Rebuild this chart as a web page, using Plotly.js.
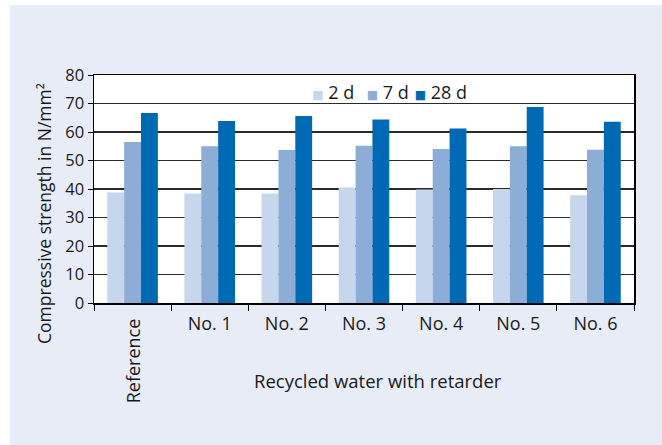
<!DOCTYPE html>
<html><head><meta charset="utf-8">
<script src="https://cdn.plot.ly/plotly-3.0.1.min.js"></script>
<style>
html,body{margin:0;padding:0;background:#ffffff;}
#chart{position:absolute;left:10px;top:5px;width:652px;height:440px;}
</style></head>
<body><div id="chart"></div>
<script>
const categories = ["Reference", "No. 1", "No. 2", "No. 3", "No. 4", "No. 5", "No. 6"];
const seriesNames = ["2 d", "7 d", "28 d"];
const values2d  = [38.8, 38.4, 38.4, 40.5, 39.8, 40.0, 37.8];
const values7d  = [56.5, 55.0, 53.7, 55.2, 54.0, 55.0, 53.8];
const values28d = [66.7, 63.9, 65.6, 64.4, 61.2, 68.8, 63.6];
const yTickVals = [0, 10, 20, 30, 40, 50, 60, 70, 80];
const xTitle = "Recycled water with retarder";
const yTitle = "Compressive strength in N/mm²";

const colors = ["#c6d6ec", "#8caed6", "#0069b4"];
const font = "Open Sans, Noto Sans, sans-serif";
const series = [values2d, values7d, values28d];
const legendIds = ["legend", "legend2", "legend3"];
const legendX = [0.330, 0.431, 0.520];

const traces = [];
series.forEach((v, i) => {
  traces.push({type: "bar", x: categories, y: v, name: seriesNames[i],
    marker: {color: colors[i], line: {width: 0}}, showlegend: false});
});
series.forEach((v, i) => {
  traces.push({type: "scatter", mode: "markers", x: [categories[0]], y: [null],
    name: '<span style="color:' + colors[i] + ';font-family:DejaVu Sans;font-size:12px">■</span> ' + seriesNames[i],
    legend: legendIds[i],
    marker: {symbol: "square", size: 0, color: "rgba(0,0,0,0)", line: {width: 0}}, showlegend: true});
});

const tickText = categories.map((c, i) => i === 0 ? "" : c);

const layout = {
  width: 652, height: 440,
  paper_bgcolor: "#e8ecf6", plot_bgcolor: "#ffffff",
  margin: {l: 84, r: 28, t: 70, b: 142},
  barmode: "group", bargap: 0.344, bargroupgap: 0,
  font: {family: font, size: 16, color: "#1a1a1a"},
  xaxis: {type: "category", tickmode: "array", tickvals: categories, ticktext: tickText,
    tickson: "boundaries", ticks: "outside", ticklen: 6, tickcolor: "#000", tickwidth: 1,
    ticklabelstandoff: 4,
    showline: true, linecolor: "#000", linewidth: 1.5, mirror: true,
    showgrid: false, tickfont: {size: 18, family: font, color: "#1a1a1a"}, fixedrange: true},
  yaxis: {range: [0, 80], tickvals: yTickVals, ticks: "outside", ticklen: 5, tickcolor: "#000",
    showline: true, linecolor: "#000", linewidth: 1.5, mirror: true,
    showgrid: true, gridcolor: "#2a2a2a", gridwidth: 1.5, zeroline: false,
    tickfont: {size: 16.5, family: font, color: "#1a1a1a"}, fixedrange: true},
  annotations: [
    {text: categories[0], xref: "x", yref: "paper", x: categories[0], y: -0.058, yanchor: "top",
     xanchor: "center", textangle: -90, showarrow: false, font: {size: 18, family: font, color: "#1a1a1a"}},
    {text: xTitle, xref: "paper", yref: "paper", x: 0.526, y: -0.34, xanchor: "center", yanchor: "middle",
     showarrow: false, font: {size: 18.5, family: font, color: "#1a1a1a"}},
    {text: yTitle, xref: "paper", yref: "paper", x: -0.0926, y: 0.395, xanchor: "center", yanchor: "middle",
     textangle: -90, showarrow: false, font: {size: 17.5, family: font, color: "#1a1a1a"}}
  ]
};
legendIds.forEach((id, i) => {
  layout[id] = {orientation: "h", x: legendX[i], xanchor: "left", y: 0.924, yanchor: "middle",
    bgcolor: "rgba(0,0,0,0)", font: {size: 18, family: font, color: "#1a1a1a"},
    itemwidth: 30, borderwidth: 0};
});
Plotly.newPlot("chart", traces, layout, {displayModeBar: false, staticPlot: true});
</script></body></html>
